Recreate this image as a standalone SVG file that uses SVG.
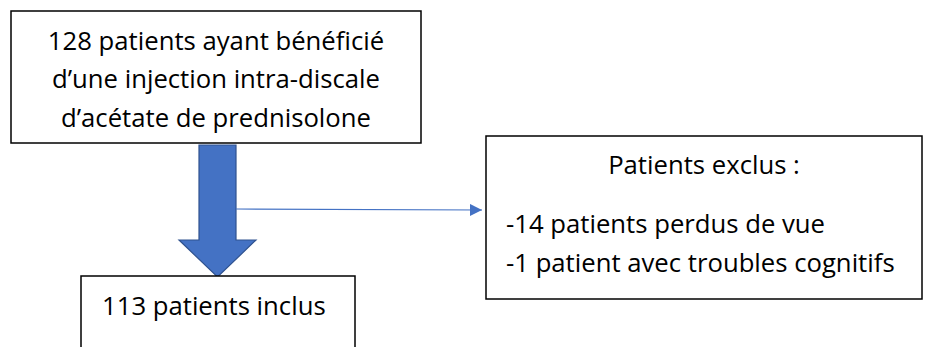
<svg xmlns="http://www.w3.org/2000/svg" width="925" height="347" viewBox="0 0 925 347">
<defs>
<style>
.box{fill:#fff;stroke:#000;stroke-width:1.5}
.t{font-family:"Open Sans","Liberation Sans",sans-serif;font-size:25.7px;fill:#000}
.c{text-anchor:middle}
</style>
<marker id="ah" viewBox="0 0 10 10" refX="10" refY="5" markerWidth="12" markerHeight="12" markerUnits="userSpaceOnUse" orient="auto">
<path d="M0,0 L10,5 L0,10 Z" fill="#4472C4"/>
</marker>
</defs>
<rect width="925" height="347" fill="#fff"/>
<g id="connectors">
<path d="M199,145 H236 V240 H256 L217.5,277 L179,240 H199 Z" fill="#4472C4" stroke="#2F528F" stroke-width="1.2"/>
<line x1="236" y1="209" x2="482" y2="210" stroke="#4472C4" stroke-width="1.2" marker-end="url(#ah)"/>
</g>
<g id="node-top">
<rect class="box" x="11" y="11" width="410" height="132"/>
<text class="t c" x="216" y="50">128 patients ayant bénéficié</text>
<text class="t c" x="216" y="88">d’une injection intra-discale</text>
<text class="t c" x="216" y="127">d’acétate de prednisolone</text>
</g>
<g id="node-included">
<rect class="box" x="81" y="276" width="274" height="80"/>
<text class="t" x="102" y="315">113 patients inclus</text>
</g>
<g id="node-excluded">
<rect class="box" x="486" y="136" width="436" height="163"/>
<text class="t c" x="704" y="174">Patients exclus :</text>
<text class="t" x="506" y="233">-14 patients perdus de vue</text>
<text class="t" x="506" y="272">-1 patient avec troubles cognitifs</text>
</g>
</svg>
